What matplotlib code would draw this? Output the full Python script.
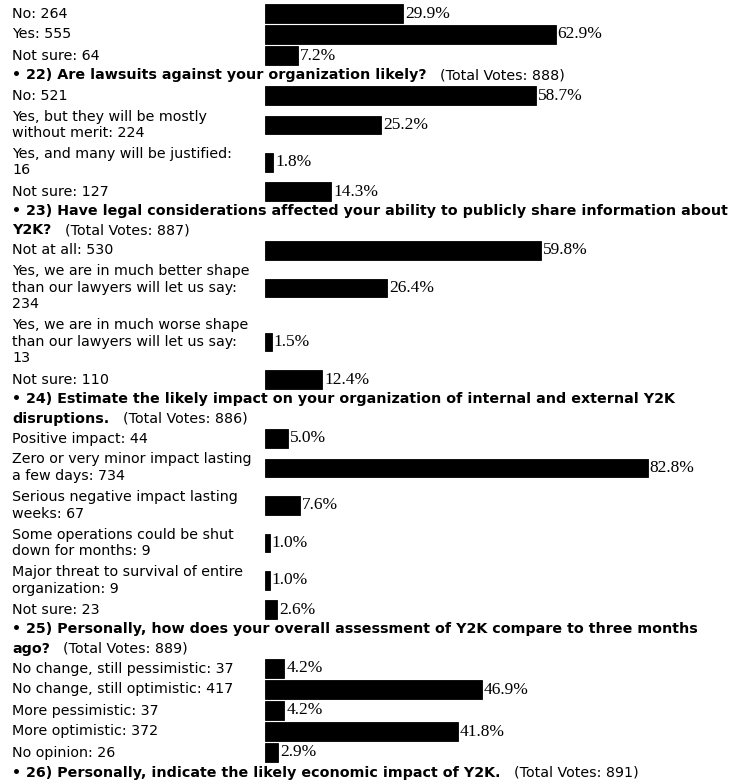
import matplotlib
matplotlib.use("Agg")
import matplotlib.pyplot as plt
from matplotlib.font_manager import FontProperties

# ---------------- data ----------------
q21_labels = ["No", "Yes", "Not sure"]
q21_counts = [264, 555, 64]
q21_pcts = [29.9, 62.9, 7.2]

q22_title = "22) Are lawsuits against your organization likely?"
q22_total = 888
q22_labels = ["No", "Yes, but they will be mostly without merit",
              "Yes, and many will be justified", "Not sure"]
q22_counts = [521, 224, 16, 127]
q22_pcts = [58.7, 25.2, 1.8, 14.3]

q23_title = ("23) Have legal considerations affected your ability to publicly "
             "share information about Y2K?")
q23_total = 887
q23_labels = ["Not at all",
              "Yes, we are in much better shape than our lawyers will let us say",
              "Yes, we are in much worse shape than our lawyers will let us say",
              "Not sure"]
q23_counts = [530, 234, 13, 110]
q23_pcts = [59.8, 26.4, 1.5, 12.4]

q24_title = ("24) Estimate the likely impact on your organization of internal "
             "and external Y2K disruptions.")
q24_total = 886
q24_labels = ["Positive impact", "Zero or very minor impact lasting a few days",
              "Serious negative impact lasting weeks",
              "Some operations could be shut down for months",
              "Major threat to survival of entire organization", "Not sure"]
q24_counts = [44, 734, 67, 9, 9, 23]
q24_pcts = [5.0, 82.8, 7.6, 1.0, 1.0, 2.6]

q25_title = ("25) Personally, how does your overall assessment of Y2K compare "
             "to three months ago?")
q25_total = 889
q25_labels = ["No change, still pessimistic", "No change, still optimistic",
              "More pessimistic", "More optimistic", "No opinion"]
q25_counts = [37, 417, 37, 372, 26]
q25_pcts = [4.2, 46.9, 4.2, 41.8, 2.9]

q26_title = "26) Personally, indicate the likely economic impact of Y2K."
q26_total = 891

# ---------------- layout ----------------
W, H, DPI = 732, 783, 100
LEFT = 12
BAR_X0 = 265
PX_PER_PCT = 4.62
TOP = 3
LINE = 16.5
PAD = 4.5
HEAD = 19
BAR_H = 18.5
FS = 10.3
ITEM_MAXW = 234.5 * FS / 10.0
HEAD_MAXW = W - LEFT

reg = FontProperties(family="DejaVu Sans", size=FS)
bold = FontProperties(family="DejaVu Sans", size=FS, weight="bold")
serif = FontProperties(family="Liberation Serif", size=12.5)

fig = plt.figure(figsize=(W / DPI, H / DPI), dpi=DPI)
fig.patch.set_facecolor("white")
ax = fig.add_axes([0, 0, 1, 1])
ax.set_xlim(0, W)
ax.set_ylim(H, 0)
ax.axis("off")
bx = fig.add_axes([BAR_X0 / W, 0, 1 - BAR_X0 / W, 1])
bx.set_xlim(0, (W - BAR_X0) / PX_PER_PCT)
bx.set_ylim(H, 0)
bx.axis("off")

renderer = fig.canvas.get_renderer()


def tw(s, prop):
    return renderer.get_text_width_height_descent(s, prop, ismath=False)[0]


def wrap(text, prop, maxw):
    words = text.split(" ")
    lines, cur = [], ""
    for w in words:
        t = w if not cur else cur + " " + w
        if cur and tw(t, prop) > maxw:
            lines.append(cur)
            cur = w
        else:
            cur = t
    lines.append(cur)
    return lines


questions = [
    (None, None, q21_labels, q21_counts, q21_pcts),
    (q22_title, q22_total, q22_labels, q22_counts, q22_pcts),
    (q23_title, q23_total, q23_labels, q23_counts, q23_pcts),
    (q24_title, q24_total, q24_labels, q24_counts, q24_pcts),
    (q25_title, q25_total, q25_labels, q25_counts, q25_pcts),
    (q26_title, q26_total, [], [], []),
]

y = TOP
gap = tw("   ", reg)
for title, total, labels, counts, pcts in questions:
    if title is not None:
        lines = wrap("\u2022 " + title, bold, HEAD_MAXW)
        for i, ln in enumerate(lines):
            yc = y + HEAD * i + HEAD / 2
            ax.text(LEFT, yc, ln, fontproperties=bold, va="center", ha="left",
                    color="black")
        ax.text(LEFT + tw(lines[-1], bold) + gap, yc,
                f"(Total Votes: {total})", fontproperties=reg, va="center",
                ha="left", color="black")
        y += HEAD * len(lines)
    for lab, cnt, pct in zip(labels, counts, pcts):
        lines = wrap(f"{lab}: {cnt}", reg, ITEM_MAXW)
        n = len(lines)
        rowh = n * LINE + PAD
        yc = y + rowh / 2
        for i, ln in enumerate(lines):
            ax.text(LEFT, yc + (i - (n - 1) / 2) * LINE, ln, fontproperties=reg,
                    va="center", ha="left", color="black")
        bx.barh(yc, pct, height=BAR_H, color="black", edgecolor="black",
                linewidth=0.6)
        bx.annotate(f"{pct:.1f}%", xy=(pct, yc), xytext=(2, 0),
                    textcoords="offset pixels", va="center", ha="left",
                    fontproperties=serif, color="black", annotation_clip=False)
        y += rowh

fig.savefig("out.png", dpi=DPI, facecolor="white")
